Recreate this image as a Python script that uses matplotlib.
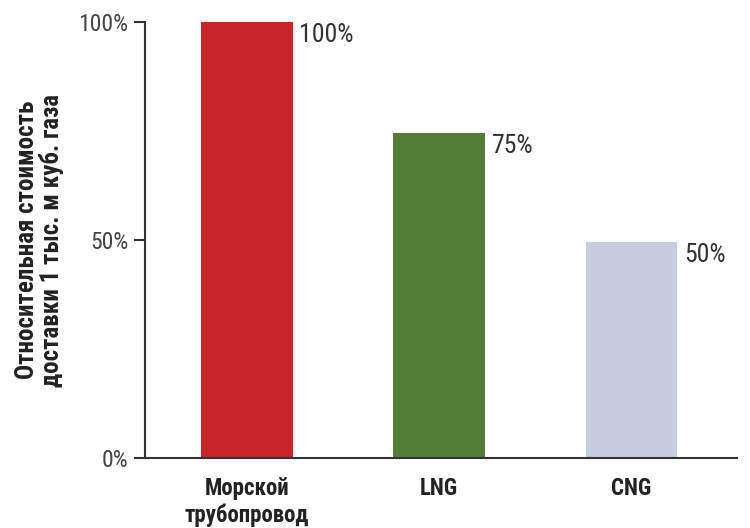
import matplotlib
matplotlib.use("Agg")
import matplotlib.pyplot as plt
from matplotlib import font_manager

names = {f.name for f in font_manager.fontManager.ttflist}
cands = ["Roboto Condensed", "Liberation Sans Narrow", "Open Sans Condensed",
         "Noto Sans Condensed", "DejaVu Sans Condensed", "Liberation Sans"]
main = next(c for c in cands if c in names) if any(c in names for c in cands) else "DejaVu Sans"
plt.rcParams['font.family'] = [main, 'DejaVu Sans']

categories = ["Морской\nтрубопровод", "LNG", "CNG"]
values = [100, 74.5, 49.5]
value_labels = ["100%", "75%", "50%"]
colors = ["#C8262B", "#537D39", "#C6CDDF"]
yticks = [0, 50, 100]
ytick_labels = ["0%", "50%", "100%"]
ylabel = "Относительная стоимость\nдоставки 1 тыс. м куб. газа"

fig = plt.figure(figsize=(7.5, 5.28), dpi=100)
ax = fig.add_axes([0.1933, 0.1326, 0.7894, 0.8257])

x = list(range(len(categories)))
ax.bar(x, values, width=0.475, color=colors, zorder=2)
ax.set_xlim(-0.53, 2.55)
ax.set_ylim(0, 100)

for xi, v, lab in zip(x, values, value_labels):
    ax.annotate(lab, (xi + 0.475 / 2, v), xytext=(5, -9), textcoords="offset points",
                ha="left", va="center", fontsize=18.5, color="#333333")

ax.set_yticks(yticks)
ax.set_yticklabels(ytick_labels, fontsize=17, color="#444444")
ax.set_xticks(x)
ax.set_xticklabels(categories, fontsize=16.5, fontweight="bold", color="#222222", linespacing=1.15)
ax.tick_params(axis="x", length=0, pad=14)
ax.tick_params(axis="y", length=8, width=1.5, color="#333333", pad=4)
ax.set_ylabel(ylabel, fontsize=18, fontweight="bold", color="#222222", linespacing=1.0, labelpad=10)

for s in ["top", "right"]:
    ax.spines[s].set_visible(False)
for s in ["left", "bottom"]:
    ax.spines[s].set_linewidth(1.5)
    ax.spines[s].set_color("#333333")

fig.savefig("out.png", dpi=100)
